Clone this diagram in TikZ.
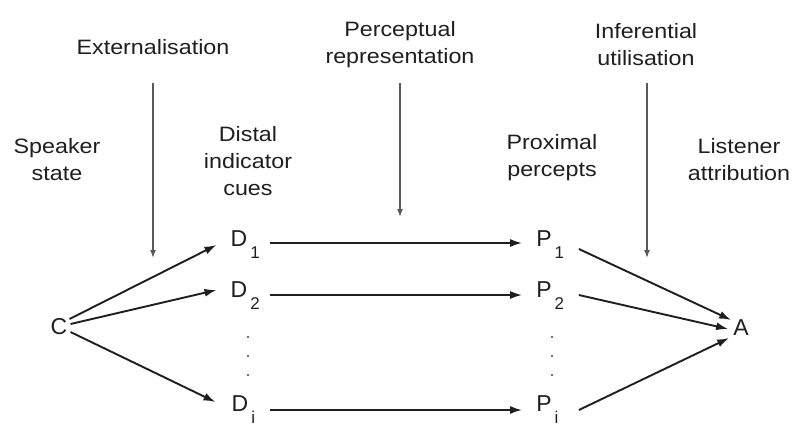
\documentclass[tikz,border=0pt]{standalone}
\usepackage{fontspec}
\setmainfont{Liberation Sans}
\newfontfamily\labfont{Liberation Sans}[FakeStretch=1.12]
\usetikzlibrary{arrows.meta,calc}
\newcommand\subsc[1]{\rlap{\hspace{3pt}\raisebox{-12pt}{\fontsize{17}{17}\selectfont #1}}}
\begin{document}
\begin{tikzpicture}[x=1pt,y=-1pt,
  lab/.style={font=\labfont\fontsize{20.8}{27}\selectfont, align=center, inner sep=0pt, text=black!88},
  var/.style={font=\fontsize{23}{23}\selectfont, inner sep=2pt, text=black!88},
  arr/.style={line width=1.9pt, draw=black!88, -{Latex[length=12pt,width=8pt]}},
  varr/.style={line width=1.5pt, draw=black!65, -{Latex[length=8pt,width=6pt]}},
  vdot/.style={circle, fill=black!75, inner sep=0pt, minimum size=2.4pt}]
\clip (0,0) rectangle (793,432);
\fill[white] (0,0) rectangle (793,432);
% labels
\node[lab] (ext) at (153,47) {Externalisation};
\node[lab] (perc) at (400,45) {Perceptual\\representation};
\node[lab] (infer) at (646,45) {Inferential\\utilisation};
\node[lab] (spk) at (57,160) {Speaker\\state};
\node[lab] (dist) at (248,161) {Distal\\indicator\\cues};
\node[lab] (prox) at (552,158) {Proximal\\percepts};
\node[lab] (lis) at (739,160) {Listener\\attribution};
% variables
\node[var] (C) at (59,327) {C};
\node[var] (D1) at (239,245) {D\subsc{1}};
\node[var] (D2) at (239,296) {D\subsc{2}};
\node[var] (Di) at (240,410) {D\subsc{i}};
\node[var] (P1) at (544,245) {P\subsc{1}};
\node[var] (P2) at (544,296) {P\subsc{2}};
\node[var] (Pi) at (544,410) {P\subsc{i}};
\node[var] (A) at (741,328) {A};
% dots
\foreach \y [count=\k] in {337,356,375} {
  \node[vdot] (dd\k) at (248,\y) {};
  \node[vdot] (pd\k) at (552,\y) {};
}
% vertical influence arrows
\coordinate (e1) at (153,83);  \coordinate (e2) at (153,258);
\coordinate (r1) at (400,83);  \coordinate (r2) at (400,217);
\coordinate (u1) at (647,83);  \coordinate (u2) at (647,258);
\draw[varr] (e1) -- (e2);
\draw[varr] (r1) -- (r2);
\draw[varr] (u1) -- (u2);
% C to D
\draw[arr] ($(C.east)+(0,-8)$) -- ($(D1.west)+(-12,0)$);
\draw[arr] ($(C.east)+(1,-3)$) -- ($(D2.west)+(-12,-6)$);
\draw[arr] ($(C.east)+(1,5)$) -- ($(Di.west)+(-14,-8)$);
% D to P
\draw[arr] ($(D1.east)+(20,-2)$) -- ($(P1.west)+(-12,-2)$);
\draw[arr] ($(D2.east)+(20,-1)$) -- ($(P2.west)+(-12,-1)$);
\draw[arr] ($(Di.east)+(19,0)$) -- ($(Pi.west)+(-12,0)$);
% P to A
\draw[arr] ($(P1.east)+(25,4)$) -- ($(A.west)+(0,-8)$);
\draw[arr] ($(P2.east)+(25,-1)$) -- ($(A.west)+(-3,1)$);
\draw[arr] ($(Pi.east)+(25,0)$) -- ($(A.west)+(-2,10)$);
\end{tikzpicture}
\end{document}
